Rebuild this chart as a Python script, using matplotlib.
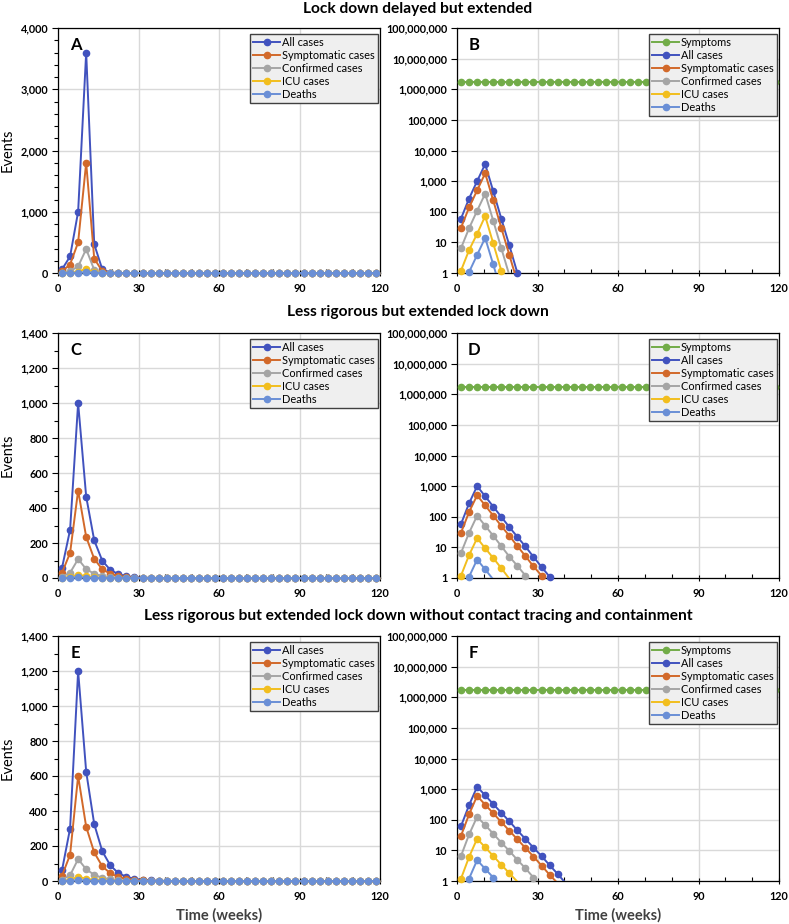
import numpy as np
import matplotlib
matplotlib.use("Agg")
import matplotlib.pyplot as plt
from matplotlib.lines import Line2D
from matplotlib.ticker import MultipleLocator, StrMethodFormatter, FixedLocator, NullLocator

plt.rcParams["font.family"] = ["Lato", "DejaVu Sans"]

# Time points (weeks), one every 3 weeks
weeks = np.arange(1.5, 120, 3)
n_pts = len(weeks)

TITLES = [
    "Lock down delayed but extended",
    "Less rigorous but extended lock down",
    "Less rigorous but extended lock down without contact tracing and containment",
]
SERIES = ["All cases", "Symptomatic cases", "Confirmed cases", "ICU cases", "Deaths"]
COLOURS = {
    "Symptoms": "#72AC48",
    "All cases": "#4152BE",
    "Symptomatic cases": "#D2692A",
    "Confirmed cases": "#A5A5A5",
    "ICU cases": "#F2BE1E",
    "Deaths": "#6A8FD6",
}

# Scenario 1: lock down delayed but extended
all_1 = [60, 270, 1000, 3600, 470, 60, 8, 1.0, 0.13]
symp_1 = [30, 138, 500, 1800, 235, 30, 3.9, 0.5]
conf_1 = [6.5, 29, 108, 390, 51, 6.5, 0.85]
icu_1 = [1.2, 5.6, 19, 72, 9.3, 1.2, 0.15]
death_1 = [0.2, 1.07, 3.9, 14, 1.9, 0.25]

# Scenario 2: less rigorous but extended lock down
all_2 = [58, 275, 1000, 465, 215, 99, 46, 22, 10.7, 4.9, 2.3, 1.1, 0.5]
symp_2 = [30, 143, 500, 235, 109, 50, 24, 11, 5.2, 2.4, 1.2, 0.55]
conf_2 = [6.6, 30, 108, 51, 24, 11, 5.0, 2.5, 1.2, 0.55]
icu_2 = [1.2, 5.6, 20, 9.4, 4.5, 2.1, 0.95, 0.45]
death_2 = [0.2, 1.1, 4.0, 1.9, 0.9, 0.4]

# Scenario 3: as 2, without contact tracing and containment
all_3 = [62, 300, 1200, 625, 325, 170, 89, 45, 23.6, 12.3, 6.5, 3.3, 1.7, 0.85]
symp_3 = [30, 150, 600, 310, 163, 84, 44, 23, 12, 6.3, 3.2, 1.6, 0.85]
conf_3 = [6.6, 33, 125, 67, 35, 18, 9.6, 4.9, 2.6, 1.3, 0.68]
icu_3 = [1.2, 6.1, 24, 12.6, 6.6, 3.4, 1.8, 0.95]
death_3 = [0.2, 1.2, 4.8, 2.5, 1.3, 0.7]

# Symptoms level (constant over the whole period)
symptoms = [1.7e6] * n_pts

SCENARIOS = [
    [all_1, symp_1, conf_1, icu_1, death_1],
    [all_2, symp_2, conf_2, icu_2, death_2],
    [all_3, symp_3, conf_3, icu_3, death_3],
]
LIN_YMAX = [4000, 1400, 1400]
LIN_MAJOR = [1000, 200, 200]
LIN_MINOR = [200, 100, 100]
LETTERS = [("A", "B"), ("C", "D"), ("E", "F")]


def pad(values):
    """Values after the epidemic has died out are zero"""
    return np.array(list(values) + [0.0] * (n_pts - len(values)))


W, H = 789, 924
fig = plt.figure(figsize=(W / 100, H / 100), dpi=100)

row_tops = [28, 333, 636]
ax_h = 245
left_x = [58, 457]
ax_w = 322
title_y = [9, 312, 616]


def style_axes(ax):
    for sp in ax.spines.values():
        sp.set_color("black")
        sp.set_linewidth(0.9)
    ax.grid(True, which="major", color="#D9D9D9", linewidth=1.0)
    ax.set_axisbelow(True)
    ax.set_xlim(0, 120)
    ax.xaxis.set_major_locator(MultipleLocator(30))
    ax.xaxis.set_minor_locator(MultipleLocator(10))
    ax.tick_params(axis="x", which="major", direction="inout", length=4,
                   width=0.8, pad=5, labelsize=7.8)
    ax.tick_params(axis="x", which="minor", direction="in", length=3, width=0.8)
    ax.tick_params(axis="y", which="both", direction="out", width=0.8,
                   labelsize=7.8, pad=3)
    ax.tick_params(axis="y", which="major", length=4)
    ax.tick_params(axis="y", which="minor", length=3)
    for lab in ax.get_xticklabels() + ax.get_yticklabels():
        lab.set_fontweight("bold")
    ax.yaxis.set_major_formatter(StrMethodFormatter("{x:,.0f}"))


def add_legend(ax, names):
    handles = [
        Line2D([], [], color=COLOURS[n], marker="o", markersize=4.5, linewidth=1.4)
        for n in names
    ]
    leg = ax.legend(
        handles, names, loc="upper right", bbox_to_anchor=(0.994, 0.976),
        borderaxespad=0, fontsize=7.9, frameon=True, fancybox=False,
        framealpha=1, facecolor="#EFEFEF", edgecolor="#404040",
        handlelength=2.4, handletextpad=0.2, labelspacing=0.18,
        borderpad=0.3, numpoints=1,
    )
    leg.get_frame().set_linewidth(1.0)
    leg.set_zorder(10)


for r in range(3):
    bottom = (H - row_tops[r] - ax_h) / H
    data = [pad(v) for v in SCENARIOS[r]]

    # Linear panel
    ax = fig.add_axes([left_x[0] / W, bottom, ax_w / W, ax_h / H])
    for name, vals in zip(SERIES, data):
        ax.plot(weeks, vals, "-o", color=COLOURS[name], linewidth=1.4,
                markersize=4.5, clip_on=False, zorder=3)
    ax.set_ylim(0, LIN_YMAX[r])
    ax.yaxis.set_major_locator(MultipleLocator(LIN_MAJOR[r]))
    ax.yaxis.set_minor_locator(MultipleLocator(LIN_MINOR[r]))
    style_axes(ax)
    add_legend(ax, SERIES)
    ax.text(0.055, 0.93, LETTERS[r][0], transform=ax.transAxes, fontsize=12,
            fontweight="bold", ha="center", va="center")
    fig.text(7.5 / W, (H - row_tops[r] - ax_h / 2) / H, "Events", rotation=90,
             ha="center", va="center", fontsize=10.5)

    # Log panel
    ax = fig.add_axes([left_x[1] / W, bottom, ax_w / W, ax_h / H])
    ax.set_yscale("log")
    log_names = ["Symptoms"] + SERIES
    log_data = [np.array(symptoms)] + data
    for name, vals in zip(log_names, log_data):
        ax.plot(weeks, np.where(vals > 0, vals, np.nan), "-",
                color=COLOURS[name], linewidth=1.4, zorder=3)
        ax.plot(weeks, np.where(vals >= 1, vals, np.nan), "o",
                color=COLOURS[name], markersize=4.5, clip_on=False, zorder=3)
    ax.set_ylim(1, 1e8)
    ax.yaxis.set_major_locator(FixedLocator([10 ** k for k in range(9)]))
    ax.yaxis.set_minor_locator(NullLocator())
    style_axes(ax)
    add_legend(ax, log_names)
    ax.text(0.052, 0.93, LETTERS[r][1], transform=ax.transAxes, fontsize=12,
            fontweight="bold", ha="center", va="center")

    fig.text(418 / W, 1 - title_y[r] / H, TITLES[r], ha="center", va="center",
             fontsize=11.2, fontweight="bold")

for lx in left_x:
    fig.text((lx + ax_w / 2) / W, 1 - 915 / H, "Time (weeks)", ha="center",
             va="center", fontsize=10.5, fontweight="bold", color="#404040")

fig.savefig("out.png", dpi=100)
